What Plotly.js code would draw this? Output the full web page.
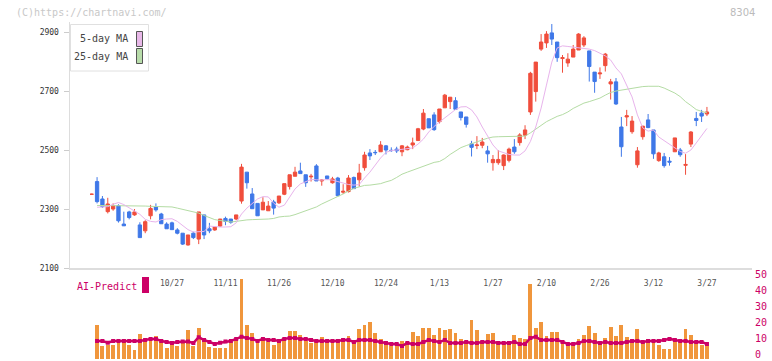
<!DOCTYPE html>
<html><head><meta charset="utf-8">
<script src="https://cdn.plot.ly/plotly-3.0.1.min.js"></script>
<style>html,body{margin:0;padding:0;background:#fff}#chart{width:772px;height:361px}</style>
</head><body><div id="chart"></div>
<script>
const dates = ["10/3","10/6","10/7","10/8","10/9","10/10","10/14","10/15","10/16","10/17",
"10/20","10/21","10/22","10/23","10/24","10/27","10/28","10/29","10/30","10/31",
"11/4","11/5","11/6","11/7","11/10","11/11","11/12","11/13","11/14","11/17",
"11/18","11/19","11/20","11/21","11/25","11/26","11/27","11/28","12/1","12/2",
"12/3","12/4","12/5","12/8","12/9","12/10","12/11","12/12","12/15","12/16",
"12/17","12/18","12/19","12/22","12/23","12/24","12/25","12/26","12/29","12/30",
"1/5","1/6","1/7","1/8","1/9","1/13","1/14","1/15","1/16","1/19",
"1/20","1/21","1/22","1/23","1/26","1/27","1/28","1/29","1/30","2/2",
"2/3","2/4","2/5","2/6","2/9","2/10","2/12","2/13","2/16","2/17",
"2/18","2/19","2/20","2/24","2/25","2/26","2/27","3/2","3/3","3/4",
"3/5","3/6","3/9","3/10","3/11","3/12","3/13","3/16","3/17","3/18",
"3/19","3/23","3/24","3/25","3/26","3/27"];
const open = [2350,2393,2334,2291,2300,2311,2249,2290,2280,2246,
2226,2277,2307,2283,2249,2253,2229,2218,2178,2218,
2198,2280,2233,2229,2242,2268,2266,2266,2327,2425,
2351,2319,2297,2294,2324,2321,2350,2376,2411,2429,
2416,2409,2446,2395,2412,2389,2405,2357,2359,2407,
2399,2440,2490,2492,2494,2514,2499,2503,2494,2501,
2517,2532,2571,2606,2619,2596,2643,2664,2667,2629,
2612,2521,2515,2516,2497,2457,2457,2447,2465,2510,
2525,2550,2629,2698,2842,2863,2897,2866,2810,2795,
2815,2839,2856,2836,2764,2758,2786,2724,2731,2578,
2612,2562,2450,2545,2602,2568,2464,2477,2462,2494,
2500,2448,2520,2607,2625,2622];
const high = [2352,2408,2344,2338,2319,2316,2291,2294,2300,2255,
2262,2314,2319,2287,2255,2257,2235,2218,2212,2223,
2290,2280,2253,2242,2266,2274,2266,2280,2453,2425,
2371,2319,2340,2327,2331,2344,2386,2416,2443,2457,
2416,2419,2452,2400,2412,2409,2409,2384,2415,2410,
2453,2494,2503,2500,2530,2517,2509,2511,2517,2515,
2542,2575,2639,2606,2628,2639,2690,2679,2679,2629,
2612,2531,2547,2541,2514,2483,2500,2485,2508,2537,
2557,2584,2765,2798,2893,2903,2927,2866,2822,2828,
2856,2896,2886,2836,2764,2780,2829,2741,2744,2612,
2636,2615,2510,2581,2622,2568,2494,2490,2476,2541,
2507,2486,2564,2629,2636,2646];
const low = [2348,2319,2304,2285,2294,2254,2243,2265,2277,2203,
2218,2265,2291,2250,2233,2230,2214,2178,2176,2198,
2181,2198,2218,2226,2239,2245,2250,2262,2318,2369,
2301,2277,2297,2294,2281,2317,2347,2366,2411,2420,
2375,2393,2395,2379,2398,2386,2345,2351,2356,2369,
2376,2430,2466,2483,2494,2485,2494,2490,2479,2499,
2503,2532,2567,2575,2565,2590,2643,2639,2638,2600,
2576,2478,2503,2506,2457,2430,2450,2432,2458,2487,
2515,2537,2619,2664,2836,2846,2856,2799,2762,2782,
2815,2839,2849,2732,2694,2741,2766,2671,2653,2477,
2581,2555,2440,2535,2574,2470,2460,2440,2447,2494,
2477,2416,2510,2581,2595,2615];
const close = [2350,2325,2308,2317,2311,2260,2243,2271,2290,2203,
2257,2302,2297,2250,2233,2230,2218,2181,2212,2203,
2290,2212,2226,2239,2266,2258,2255,2280,2442,2389,
2301,2277,2323,2310,2303,2344,2386,2416,2425,2420,
2389,2411,2395,2398,2403,2402,2345,2360,2405,2369,
2422,2483,2480,2491,2517,2500,2498,2497,2514,2510,
2524,2572,2625,2575,2569,2639,2686,2679,2638,2610,
2587,2509,2517,2527,2487,2468,2468,2483,2503,2494,
2551,2568,2760,2798,2866,2893,2876,2813,2813,2808,
2842,2893,2880,2783,2732,2761,2825,2731,2656,2511,
2616,2598,2497,2581,2576,2487,2490,2447,2459,2541,
2484,2451,2561,2600,2615,2629];
const ma5 = [null,2306,2306,2308,2316,2322,2315,2303,2293,2282,
2265,2258,2256,2264,2266,2267,2258,2243,2230,2222,
2222,2224,2242,2240,2239,2239,2240,2253,2283,2303,
2320,2334,2342,2341,2320,2306,2313,2341,2368,2385,
2392,2400,2399,2398,2400,2398,2393,2388,2383,2381,
2383,2405,2425,2449,2473,2492,2498,2500,2502,2504,
2507,2520,2537,2561,2580,2595,2609,2625,2637,2646,
2647,2636,2612,2578,2547,2517,2497,2490,2485,2483,
2483,2497,2529,2578,2642,2720,2798,2846,2853,2851,
2849,2846,2844,2842,2837,2829,2819,2805,2778,2758,
2717,2680,2619,2575,2564,2568,2544,2532,2520,2505,
2495,2489,2500,2524,2549,2573];
const ma25 = [null,2312,2312,2312,2312,2311,2311,2311,2310,2310,
2310,2309,2309,2308,2308,2307,2303,2299,2296,2292,
2286,2278,2271,2264,2261,2258,2256,2258,2261,2263,
2264,2264,2265,2266,2268,2273,2275,2276,2281,2288,
2295,2301,2307,2317,2325,2334,2341,2351,2361,2370,
2375,2380,2381,2384,2386,2392,2397,2407,2418,2425,
2432,2438,2445,2453,2458,2461,2471,2485,2497,2508,
2515,2522,2528,2534,2540,2544,2545,2545,2545,2545,
2545,2547,2558,2570,2585,2596,2605,2614,2620,2629,
2641,2651,2659,2664,2670,2676,2686,2695,2700,2703,
2707,2710,2712,2715,2716,2716,2716,2710,2702,2693,
2681,2664,2651,2637,2631,2626];
const volume = [null,21,7.9,8.5,8.5,11,12.3,8.5,5.3,15.4,
12.9,11.6,14.2,10.4,6.6,8.5,7.9,11,18,7.9,
19.2,11,7.2,6.6,6.6,6.6,10.4,11.6,50,21,
16,11,12.3,10.4,8.5,11,12.9,17.4,17.4,14.8,
11,9.8,11,13.6,10.4,11,12.3,12.9,14.2,11,
18.6,21,22.9,16,12.3,9.7,7.9,7.9,11,10.4,
16.6,14.2,19.2,19.2,14.8,19.2,18,18.6,16,12.3,
11,24.2,18,11,15.4,16,11,10.4,9.1,14.8,
12.9,12.3,46.9,19.2,22.9,14.2,16.6,16.6,11.6,8.5,
8.5,12.3,14.8,20.4,16,9.1,12.9,19.8,14.2,21,
13.6,11,18.6,11,12.3,12.3,8.5,6,6,11,
12.3,18.6,14.8,11,8.5,9.7];
const aiPredict = [null,11,11,9.9,11,11,11,11,11,11,
11.6,12.3,12.3,11,10.4,9.7,10.4,10.6,10.6,9.7,
13.4,11.6,10.4,9.1,9.9,10.6,11,12.3,13.6,12.9,
12.3,11,12.3,11.6,11.6,11,12.3,12.9,12.9,12.3,
12.3,11.6,11,11,11,11,11,11.6,11.6,10.4,
11.6,11.6,11.6,11,10.4,9.7,9.1,9.1,7.9,9.7,
9.1,9.1,10.4,11.6,11,10.4,11.6,9.7,9.7,9.7,
10.4,9.7,9.7,10.4,10.4,10.4,9.7,9.7,9.7,10.4,
9.1,9.1,12.9,13.6,11.6,11.6,11.6,11.6,10.4,9.1,
9.1,9.7,11,11,10.4,9.7,10.4,9.7,9.7,9.7,
10.4,11,11,10.4,11,11,11,11.6,12.3,11.6,
11,11,10.4,10.4,10.4,9.1];
const dateTicks = ["10/27","11/11","11/26","12/10","12/24","1/13","1/27","2/10","2/26","3/12","3/27"];
const priceTicks = [2100,2300,2500,2700,2900];
const volTicks = [0,10,20,30,40,50];

const W = 772, H = 361;
const px = v => v / W;
const py = v => 1 - v / H;
const idx = dates.map((d, i) => i);
const xRange = [-4.06, 123.42];
const gridTicks = [];
for (let k = 0; k <= 11; k++) gridTicks.push(xRange[0] + k * (xRange[1] - xRange[0]) / 11);
const mono = "DejaVu Sans Mono";
const xDom = [px(70), px(752)];

const traces = [
  {type:'candlestick', x: idx, open: open, high: high, low: low, close: close,
   xaxis:'x', yaxis:'y', whiskerwidth:0, hoverinfo:'skip', showlegend:false,
   increasing:{line:{color:'#f04e3c', width:1}, fillcolor:'#f04e3c'},
   decreasing:{line:{color:'#3f78e8', width:1}, fillcolor:'#3f78e8'}},
  {type:'scatter', mode:'lines', x: idx, y: ma25, xaxis:'x', yaxis:'y',
   line:{color:'#b4dca4', width:1}, hoverinfo:'skip', showlegend:false},
  {type:'scatter', mode:'lines', x: idx, y: ma5, xaxis:'x', yaxis:'y',
   line:{color:'#e8b4ec', width:1}, hoverinfo:'skip', showlegend:false},
  {type:'bar', x: idx, y: volume, xaxis:'x2', yaxis:'y2', width:0.72,
   marker:{color:'#f0963c'}, hoverinfo:'skip', showlegend:false},
  {type:'scatter', mode:'lines+markers', x: idx, y: aiPredict, xaxis:'x2', yaxis:'y2',
   line:{color:'#cc0066', width:2.5}, marker:{color:'#cc0066', symbol:'square', size:4},
   hoverinfo:'skip', showlegend:false}
];

const layout = {
  width: W, height: H, margin:{l:0, r:0, t:0, b:0},
  paper_bgcolor:'#fff', plot_bgcolor:'rgba(0,0,0,0)',
  showlegend:false, boxgap:0.12, bargap:0,
  xaxis:{domain:xDom, range:xRange, anchor:'y', rangeslider:{visible:false},
    tickvals: dateTicks.map(d => dates.indexOf(d)), ticktext: dateTicks,
    ticks:'', showline:true, linecolor:'#dddddd', linewidth:1.5, showgrid:false, zeroline:false,
    tickfont:{family:mono, size:8, color:'#555'}, ticklabelstandoff:7},
  xaxis3:{domain:xDom, range:xRange, overlaying:'x', anchor:'y', side:'bottom',
    tickvals: gridTicks, showticklabels:false, ticks:'inside', ticklen:4, tickcolor:'#dddddd', tickwidth:1.5,
    showline:false, showgrid:false, zeroline:false},
  yaxis:{domain:[py(268), py(22)], range:[2100, 2933.9], anchor:'x',
    tickvals: priceTicks, ticktext: priceTicks.map(String),
    ticks:'outside', ticklen:5, tickcolor:'#cccccc', showline:true, linecolor:'#dddddd', linewidth:1.5,
    showgrid:false, zeroline:false, tickfont:{family:mono, size:8, color:'#333'}, ticklabelstandoff:3},
  xaxis2:{domain:xDom, range:xRange, anchor:'y2', visible:false},
  yaxis2:{domain:[py(359.3), py(275.6)], range:[-0.5, 52], anchor:'x2', side:'right',
    tickvals: volTicks, ticktext: volTicks.map(String), ticks:'', showline:false, showgrid:false, zeroline:false,
    tickfont:{family:mono, size:10, color:'#cc0066'}, ticklabelstandoff:2, ticklabelshift:-4,
    ticklabeloverflow:'allow'},
  shapes:[
    {type:'rect', xref:'paper', yref:'paper', x0:px(70.5), x1:px(148.5), y0:py(71), y1:py(24.5),
     line:{color:'#e0e0e0', width:1}, fillcolor:'#fff'},
    {type:'rect', xref:'paper', yref:'paper', x0:px(136.5), x1:px(142.5), y0:py(46.5), y1:py(31.5),
     line:{color:'#555', width:1}, fillcolor:'#e8b8e8'},
    {type:'rect', xref:'paper', yref:'paper', x0:px(136.5), x1:px(142.5), y0:py(63.5), y1:py(48.5),
     line:{color:'#555', width:1}, fillcolor:'#b8dcaa'},
    {type:'rect', xref:'paper', yref:'paper', x0:px(142), x1:px(149), y0:py(293), y1:py(277),
     line:{width:0}, fillcolor:'#cc0066'}
  ],
  annotations:[
    {text:'(C)https://chartnavi.com/', xref:'paper', yref:'paper', x:px(14), y:py(12.5),
     xanchor:'left', yanchor:'middle', showarrow:false, font:{family:mono, size:10, color:'#c8c8c8'}},
    {text:'8304', xref:'paper', yref:'paper', x:px(757), y:py(12.5),
     xanchor:'right', yanchor:'middle', showarrow:false, font:{family:'DejaVu Sans', size:10, color:'#bbbbbb'}},
    {text:'5-day MA', xref:'paper', yref:'paper', x:px(130), y:py(39),
     xanchor:'right', yanchor:'middle', showarrow:false, font:{family:mono, size:10, color:'#444'}},
    {text:'25-day MA', xref:'paper', yref:'paper', x:px(130), y:py(56.5),
     xanchor:'right', yanchor:'middle', showarrow:false, font:{family:mono, size:10, color:'#444'}},
    {text:'AI-Predict', xref:'paper', yref:'paper', x:px(75), y:py(286),
     xanchor:'left', yanchor:'middle', showarrow:false, font:{family:mono, size:10, color:'#cc0066'}}
  ]
};
Plotly.newPlot('chart', traces, layout, {staticPlot:true, displayModeBar:false});
</script>
</body></html>
